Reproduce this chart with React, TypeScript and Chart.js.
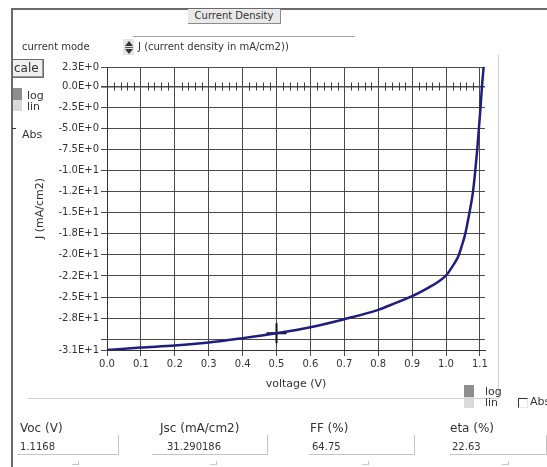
import React, { useEffect, useRef } from "react";
import { Chart, registerables } from "chart.js";

Chart.register(...registerables);

// ---- data ----
const voltage = [0, 0.1, 0.2, 0.3, 0.4, 0.5, 0.6, 0.7, 0.8, 0.85, 0.9, 0.95, 0.975, 1.0, 1.02, 1.036, 1.046, 1.056, 1.069, 1.079, 1.086, 1.092, 1.097, 1.102, 1.106, 1.111];
const currentDensity = [-31.29, -31.0, -30.76, -30.4, -29.88, -29.29, -28.58, -27.63, -26.52, -25.73, -24.9, -23.85, -23.25, -22.45, -21.3, -20.2, -19.0, -17.63, -15.02, -12.68, -10.12, -7.54, -4.97, -2.41, -0.04, 2.3];
const cursorV = [0.5];
const cursorJ = [-29.29];

const xTickValues = [0, 0.1, 0.2, 0.3, 0.4, 0.5, 0.6, 0.7, 0.8, 0.9, 1.0, 1.1];
const xTickLabels = ["0.0", "0.1", "0.2", "0.3", "0.4", "0.5", "0.6", "0.7", "0.8", "0.9", "1.0", "1.1"];
const yTickValues = [2.3, 0, -2.5, -5, -7.5, -10, -12.5, -15, -17.5, -20, -22.5, -25, -27.5, -30, -31.29];
const yTickLabels = ["2.3E+0", "0.0E+0", "-2.5E+0", "-5.0E+0", "-7.5E+0", "-1.0E+1", "-1.2E+1", "-1.5E+1", "-1.8E+1", "-2.0E+1", "-2.2E+1", "-2.5E+1", "-2.8E+1", "", "-3.1E+1"];
const minorTicksPerMajor = 5;

const resultLabels = ["Voc (V)", "Jsc (mA/cm2)", "FF (%)", "eta (%)"];
const resultValues = ["1.1168", "31.290186", "64.75", "22.63"];

const FONT = "'DejaVu Sans', sans-serif";
const TXT = "#333";

const minorTicksPlugin = {
  id: "minorTicks",
  beforeDatasetsDraw(chart: any) {
    const { ctx, scales } = chart;
    const x = scales.x;
    const y = scales.y;
    const y0 = Math.round(y.getPixelForValue(0)) + 0.5;
    ctx.save();
    ctx.strokeStyle = "#3a3a3a";
    ctx.lineWidth = 1;
    for (let k = 0; k < xTickValues.length - 1; k++) {
      const a = xTickValues[k];
      const b = xTickValues[k + 1];
      for (let j = 1; j < minorTicksPerMajor; j++) {
        const v = a + ((b - a) * j) / minorTicksPerMajor;
        const px = Math.round(x.getPixelForValue(v)) + 0.5;
        ctx.beginPath();
        ctx.moveTo(px, y0 - 4);
        ctx.lineTo(px, y0 + 4);
        ctx.stroke();
      }
    }
    ctx.restore();
  },
};

function ChartCanvas() {
  const ref = useRef<HTMLCanvasElement>(null);
  useEffect(() => {
    if (!ref.current) return;
    const chart = new Chart(ref.current, {
      type: "line",
      data: {
        datasets: [
          {
            data: voltage.map((v, i) => ({ x: v, y: currentDensity[i] })),
            borderColor: "#1e1e80",
            borderWidth: 2.5,
            pointRadius: 0,
            cubicInterpolationMode: "monotone",
            fill: false,
          },
          {
            data: cursorV.map((v, i) => ({ x: v, y: cursorJ[i] })),
            showLine: false,
            pointStyle: "cross",
            pointRadius: 10,
            borderColor: "#111",
            borderWidth: 2,
          },
        ],
      } as any,
      options: {
        animation: false,
        responsive: false,
        devicePixelRatio: 1,
        layout: { padding: { left: 34, top: 67, right: 62, bottom: 76 } },
        plugins: { legend: { display: false }, tooltip: { enabled: false } },
        scales: {
          x: {
            type: "linear",
            min: 0,
            max: 1.115,
            afterBuildTicks: (s: any) => {
              s.ticks = xTickValues.map((v) => ({ value: v }));
            },
            afterFit: (s: any) => {
              s.height = 41;
            },
            ticks: {
              autoSkip: false,
              maxRotation: 0,
              padding: 2,
              color: TXT,
              font: { family: FONT, size: 10 },
              callback: (_v: any, i: number) => xTickLabels[i],
            },
            grid: { color: "#4a4a4a", lineWidth: 1, tickLength: 6, drawTicks: true },
            border: { display: true, color: "#333", width: 1 },
            title: {
              display: true,
              text: "voltage (V)",
              color: TXT,
              font: { family: FONT, size: 11 },
              padding: { top: 0, bottom: 0 },
            },
          },
          y: {
            type: "linear",
            min: -31.29,
            max: 2.3,
            afterBuildTicks: (s: any) => {
              s.ticks = yTickValues.map((v) => ({ value: v }));
            },
            afterFit: (s: any) => {
              s.width = 73;
            },
            ticks: {
              autoSkip: false,
              padding: 2,
              color: TXT,
              font: { family: FONT, size: 10 },
              callback: (_v: any, i: number) => yTickLabels[i],
            },
            grid: {
              color: "#4a4a4a",
              lineWidth: (c: any) => (c.tick && c.tick.value === 0 ? 1.6 : 1),
              tickLength: 6,
            },
            border: { display: true, color: "#333", width: 1 },
            title: {
              display: true,
              text: "J (mA/cm2)",
              color: TXT,
              font: { family: FONT, size: 11 },
              padding: { top: 0, bottom: 0 },
            },
          },
        },
      } as any,
      plugins: [minorTicksPlugin],
    });
    return () => chart.destroy();
  }, []);
  return <canvas ref={ref} width={547} height={467} style={{ position: "absolute", left: 0, top: 0, width: 547, height: 467 }} />;
}

const abs = (l: number, t: number, extra: any = {}): any => ({ position: "absolute", left: l, top: t, ...extra });
const text = (l: number, t: number, size: number, extra: any = {}): any =>
  abs(l, t, { fontFamily: FONT, fontSize: size, lineHeight: `${size + 2}px`, color: TXT, whiteSpace: "nowrap", ...extra });

export default function App() {
  const labelLeft = [20, 160, 310, 450];
  const valueLeft = [20, 167, 312, 452];
  const boxLeft = [17, 152, 309, 450];
  const boxWidth = [102, 116, 106, 97];
  const markLeft = [72, 210, 362, 502];
  return (
    <div style={{ position: "absolute", left: 0, top: 0, width: 547, height: 467, overflow: "hidden", background: "#fff" }}>
      <ChartCanvas />
      {/* frame */}
      <div style={abs(11, 8, { width: 536, height: 2, background: "#6a6a6a" })} />
      <div style={abs(11, 8, { width: 2, height: 459, background: "#6a6a6a" })} />
      {/* title box */}
      <div
        style={text(188, 9, 10, {
          width: 92,
          height: 14,
          lineHeight: "14px",
          textAlign: "center",
          background: "#e9e9e9",
          borderRight: "1px solid #8a8a8a",
          borderBottom: "1px solid #8a8a8a",
        })}
      >
        Current Density
      </div>
      {/* current mode row */}
      <div style={abs(133, 36, { width: 222, height: 1, background: "#a0a0a0" })} />
      <div style={text(22, 41, 10)}>current mode</div>
      <div style={abs(123, 39, { width: 11, height: 16, background: "#e4e4e4" })} />
      <div style={abs(125, 41, { width: 0, height: 0, borderLeft: "4px solid transparent", borderRight: "4px solid transparent", borderBottom: "5px solid #333" })} />
      <div style={abs(125, 47, { width: 8, height: 1, background: "#555" })} />
      <div style={abs(125, 49, { width: 0, height: 0, borderLeft: "4px solid transparent", borderRight: "4px solid transparent", borderTop: "5px solid #333" })} />
      <div style={text(138, 41, 10)}>J (current density in mA/cm2))</div>
      {/* scale button */}
      <div
        style={text(12, 59, 12, {
          width: 29,
          height: 17,
          lineHeight: "17px",
          paddingLeft: 1,
          background: "#efefef",
          border: "1px solid #6a6a6a",
          boxShadow: "inset -1px -1px 0 #9a9a9a",
        })}
      >
        cale
      </div>
      {/* log / lin left */}
      <div style={abs(13, 88, { width: 9, height: 12, background: "#8e8e8e" })} />
      <div style={abs(13, 100, { width: 9, height: 11, background: "#dadada" })} />
      <div style={text(27, 90, 11, { lineHeight: "12px" })}>log</div>
      <div style={text(27, 101, 11, { lineHeight: "12px" })}>lin</div>
      {/* Abs left */}
      <div style={abs(12, 128, { width: 4, height: 1, background: "#333" })} />
      <div style={text(22, 128, 11)}>Abs</div>
      {/* panel edges */}
      <div style={abs(498, 55, { width: 1, height: 344, background: "#cfcfcf" })} />
      <div style={abs(28, 398, { width: 471, height: 1, background: "#cfcfcf" })} />
      {/* log / lin right */}
      <div style={abs(464, 385, { width: 10, height: 12, background: "#8e8e8e" })} />
      <div style={abs(464, 397, { width: 10, height: 11, background: "#dadada" })} />
      <div style={text(485, 386, 11, { lineHeight: "12px" })}>log</div>
      <div style={text(485, 397, 11, { lineHeight: "12px" })}>lin</div>
      <div
        style={abs(518, 398, {
          width: 8,
          height: 8,
          borderTop: "1px solid #333",
          borderLeft: "1px solid #333",
          borderRight: "1px solid #e6e6e6",
          borderBottom: "1px solid #e6e6e6",
        })}
      />
      <div style={text(530, 395, 11)}>Abs</div>
      {/* results */}
      {resultLabels.map((l, i) => (
        <div key={"l" + i} style={text(labelLeft[i], 421, 12)}>
          {l}
        </div>
      ))}
      {resultValues.map((v, i) => (
        <div key={"v" + i} style={text(valueLeft[i], 441, 10)}>
          {v}
        </div>
      ))}
      {boxLeft.map((b, i) => (
        <React.Fragment key={"b" + i}>
          <div style={abs(b, 454, { width: boxWidth[i], height: 1, background: "#c4c4c4" })} />
          <div style={abs(b + boxWidth[i] - 1, 435, { width: 1, height: 20, background: "#c4c4c4" })} />
        </React.Fragment>
      ))}
      {markLeft.map((m, i) => (
        <React.Fragment key={"m" + i}>
          <div style={abs(m, 464, { width: 7, height: 1, background: "#c8c8c8" })} />
          <div style={abs(m + 6, 461, { width: 1, height: 4, background: "#c8c8c8" })} />
        </React.Fragment>
      ))}
    </div>
  );
}
